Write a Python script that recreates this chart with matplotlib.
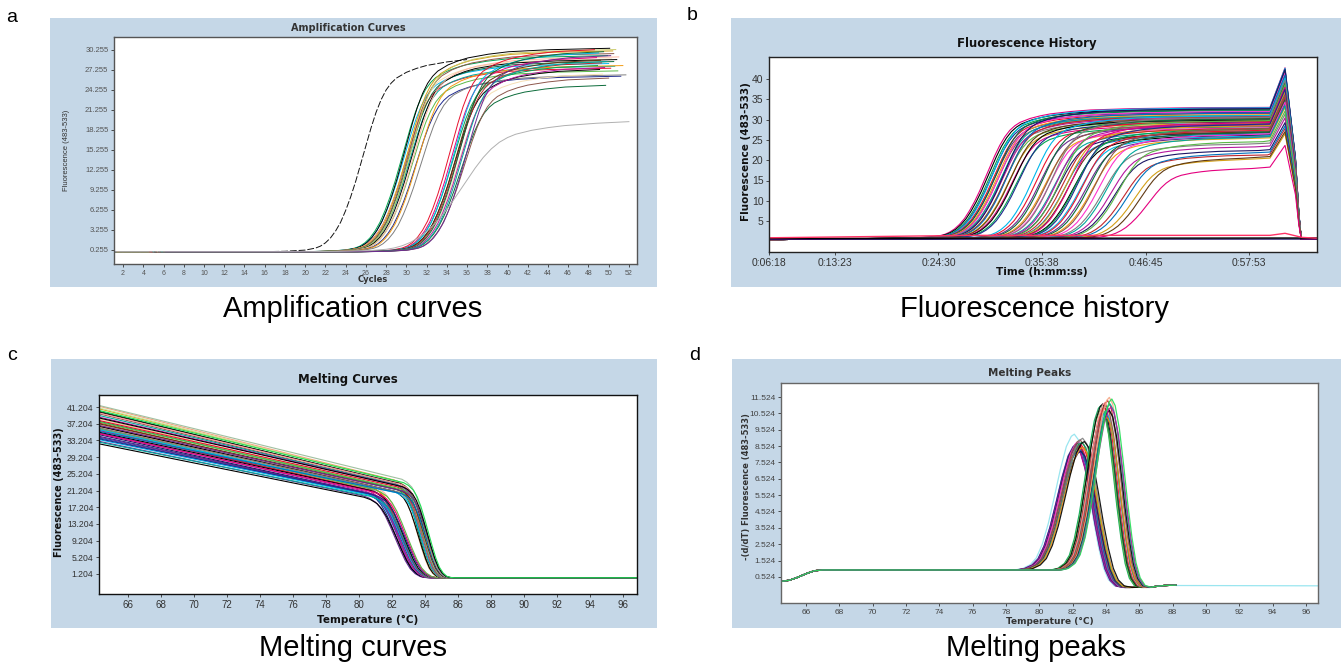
import numpy as np
import matplotlib
matplotlib.use('Agg')
import matplotlib.pyplot as plt
from matplotlib.patches import Rectangle

W, H = 1342, 663
BG = '#c5d7e7'

PALETTE = ['#e4007f', '#000000', '#00a651', '#1f2a8f', '#00b7eb', '#e8112d',
           '#6a2c91', '#0b6b3a', '#f39c12', '#8c564b', '#ff33cc', '#7f7f7f',
           '#00a99d', '#b5179e', '#1b1464', '#5ab947', '#c1272d', '#0072bc',
           '#d4a017', '#603913']

# ---------------- Panel a : amplification curves ----------------
A_TPL_OFF = [-30, -10, -8, -6, -5, -4.5, -4, -3.5, -3, -2.5, -2, -1.5, -1, -0.5, 0,
             0.5, 1, 1.5, 2, 2.5, 3, 4, 5, 6, 8, 10, 14, 20, 30]
A_TPL_FRAC = [0.0, 0.0, 0.002, 0.008, 0.018, 0.028, 0.045, 0.07, 0.105, 0.15, 0.21,
              0.28, 0.36, 0.45, 0.54, 0.63, 0.71, 0.775, 0.825, 0.86, 0.885, 0.915,
              0.935, 0.95, 0.968, 0.98, 0.99, 0.997, 1.0]
A_MID = [26.0,
         29.9, 30.0, 30.1, 30.2, 30.3, 30.4, 30.5, 30.5, 30.6, 30.7, 30.8, 30.9, 31.0, 31.2, 31.4, 31.7,
         34.6, 34.8, 34.9, 35.0, 35.1, 35.2, 35.3, 35.4, 35.5, 35.6, 35.7, 35.8, 36.0, 36.2,
         36.0]
A_PLAT = [29.4,
          29.5, 28.3, 30.6, 27.6, 29.0, 30.2, 28.6, 29.8, 27.9, 30.4, 28.9, 27.2, 29.3, 26.4, 28.0, 26.6,
          30.6, 29.4, 28.2, 30.1, 27.6, 29.0, 28.6, 26.9, 30.3, 27.9, 25.2, 28.8, 26.3, 29.7,
          19.9]
A_SCALE = [1.0] + [1.0] * 16 + [1.0] * 14 + [1.6]
A_END = [37.5] + [53] * 16 + [53] * 14 + [53]
A_COLORS = (['#111111'] +
            ['#00a651', '#00b7eb', '#000000', '#e8112d', '#f5deb3', '#d4a017', '#0b6b3a', '#8c564b',
             '#00a99d', '#c8c864', '#000000', '#5ab947', '#ffb6a0', '#1f2a8f', '#f39c12', '#7f7f7f'] +
            ['#e8112d', '#e4007f', '#00a651', '#00b7eb', '#000000', '#603913', '#c1272d', '#f5deb3',
             '#0b6b3a', '#b5179e', '#0b6b3a', '#00a99d', '#8c564b', '#6a2c91'] +
            ['#b0b0b0'])
A_XTICKS = [2, 4, 6, 8, 10, 12, 14, 16, 18, 20, 22, 24, 26, 28, 30, 32, 34, 36, 38, 40,
            42, 44, 46, 48, 50, 52]
A_YTICKS = [0.255, 3.255, 6.255, 9.255, 12.255, 15.255, 18.255, 21.255, 24.255, 27.255, 30.255]
A_YTICKLABELS = ['0.255', '3.255', '6.255', '9.255', '12.255', '15.255', '18.255',
                 '21.255', '24.255', '27.255', '30.255']

# ---------------- Panel b : fluorescence history ----------------
B_XTICKS = [378, 803, 1470, 2138, 2805, 3473]
B_XTICKLABELS = ['0:06:18', '0:13:23', '0:24:30', '0:35:38', '0:46:45', '0:57:53']
B_YTICKS = [5, 10, 15, 20, 25, 30, 35, 40]
B_SEC_PER_CYCLE = 65
B_BASE = 0.8
B_LEAD_T = [378, 820]
B_LEAD_V = [0.45, 0.6]
B_MID = [1800, 1810, 1822, 1830, 1838, 1845, 1850, 1858, 1865, 1872, 1880, 1886, 1893, 1900,
         1908, 1915, 1922, 1930, 1940, 1950, 1962, 1975, 1990, 2005,
         2100, 2120, 2140, 2160, 2175, 2190, 2205, 2220, 2235, 2250, 2262, 2275, 2290, 2305,
         2318, 2330, 2345, 2360, 2375, 2390, 2405, 2420, 2440, 2460, 2480, 2500,
         2525, 2550, 2575, 2600, 2625, 2650, 2680, 2710, 2750, 2790, 2840]
B_PLAT = [32.2, 31.8, 31.4, 31.0, 32.1, 30.7, 30.1, 31.6, 30.4, 29.8, 31.2, 29.0, 30.2, 29.6,
          31.9, 28.7, 30.0, 30.8, 28.2, 29.4, 27.8, 29.1, 27.4, 28.6,
          30.2, 28.8, 27.6, 29.4, 26.8, 28.2, 27.2, 29.8, 26.4, 28.0, 26.0, 29.0, 27.1, 25.7,
          27.7, 26.2, 28.5, 25.4, 26.9, 28.1, 25.2, 26.6, 25.0, 26.1, 24.7, 27.0,
          25.7, 23.4, 25.0, 22.7, 21.8, 24.0, 20.7, 21.2, 19.7, 20.1, 17.5]
B_HOLD_END = 3606
B_JUMP_T = [3606, 3703, 3770, 3792, 3808]
B_JUMP_F = [1.0, 1.3, 0.62, 0.2, 0.0]
B_END_T = 3909
B_END_V = 0.5
B_NEG_T = [[378, 3909], [378, 3909], [378, 1700, 3606, 3703, 3812, 3909]]
B_NEG_V = [[0.55, 0.6], [0.75, 0.85], [0.9, 1.5, 1.5, 2.0, 1.0, 0.8]]
B_NEG_C = ['#1b1464', '#000000', '#ff3366']

# ---------------- Panel c : melting curves ----------------
C_TPL_OFF = [-2.0, -1.6, -1.2, -0.9, -0.6, -0.3, 0.0, 0.3, 0.6, 0.9, 1.2, 1.5, 1.8, 2.1]
C_TPL_FRAC = [1.0, 0.97, 0.92, 0.85, 0.75, 0.62, 0.48, 0.34, 0.21, 0.11, 0.05, 0.015, 0.003, 0.0]
C_BASE = 0.3
C_TSTART = 64.24
C_TEND = 96.85
C_TM = [82.20, 82.25, 82.30, 82.30, 82.35, 82.40, 82.40, 82.45, 82.50, 82.50, 82.55, 82.60,
        82.60, 82.65, 82.70, 82.70, 82.75, 82.80, 82.85, 82.90,
        83.55, 83.60, 83.60, 83.65, 83.70, 83.70, 83.75, 83.80, 83.80, 83.85, 83.90, 83.90,
        83.95, 84.00, 84.00, 84.05, 84.05, 84.10, 84.10, 84.15, 84.15, 84.20]
C_WIDTH = [1.0] * 20 + [0.75] * 22
C_START = [33.0, 34.2, 35.6, 32.4, 36.8, 33.8, 35.0, 37.4, 34.6, 36.2, 33.4, 35.8, 34.0, 36.6,
           32.8, 35.2, 37.0, 33.6, 34.8, 36.0,
           38.4, 40.2, 36.6, 41.4, 37.8, 39.6, 35.8, 40.8, 38.0, 36.2, 39.2, 41.0, 37.2, 38.8,
           40.0, 35.4, 39.8, 37.6, 41.6, 36.8, 38.6, 40.4]
C_SHOULDER = [20.0, 20.8, 21.6, 19.6, 22.2, 20.4, 21.0, 22.6, 20.6, 21.8, 20.2, 21.4, 20.5,
              22.0, 19.8, 21.2, 22.4, 20.3, 20.9, 21.5,
              21.9, 23.1, 21.1, 23.7, 21.7, 22.7, 20.7, 23.5, 22.1, 20.9, 22.5, 23.3, 21.3,
              22.3, 22.9, 20.5, 22.7, 21.5, 23.9, 21.1, 22.1, 23.1]
C_COLORS = ['#6a2c91', '#1f2a8f', '#e4007f', '#000000', '#ff33cc', '#0072bc', '#b5179e',
            '#e8112d', '#1b1464', '#7f7f7f', '#00b7eb', '#c1272d', '#6a2c91', '#f39c12',
            '#00a99d', '#000000', '#ffb6a0', '#1f2a8f', '#e4007f', '#5ab947',
            '#f5c08a', '#0b6b3a', '#000000', '#f4a582', '#00a651', '#8c564b', '#00b7eb',
            '#d4a017', '#e8112d', '#7f7f7f', '#00a99d', '#c8e6a0', '#603913', '#b5179e',
            '#000000', '#0072bc', '#ff9999', '#5ab947', '#a0c0a0', '#6a2c91', '#000000',
            '#22dd55']
C_XTICKS = [66, 68, 70, 72, 74, 76, 78, 80, 82, 84, 86, 88, 90, 92, 94, 96]
C_YTICKS = [1.204, 5.204, 9.204, 13.204, 17.204, 21.204, 25.204, 29.204, 33.204, 37.204, 41.204]
C_YTICKLABELS = ['1.204', '5.204', '9.204', '13.204', '17.204', '21.204', '25.204', '29.204',
                 '33.204', '37.204', '41.204']

# ---------------- Panel d : melting peaks ----------------
D_PRE_T = [64.5, 65.0, 65.5, 66.0, 66.5, 67.0, 78.0]
D_PRE_V = [0.25, 0.32, 0.5, 0.72, 0.9, 0.95, 0.95]
D_TPL_OFF = [-3.0, -2.6, -2.2, -1.9, -1.6, -1.3, -1.0, -0.7, -0.4, -0.15, 0.0, 0.2, 0.45,
             0.7, 0.95, 1.2, 1.45, 1.7, 2.0, 2.4]
D_TPL_FRAC = [0.0, 0.01, 0.04, 0.09, 0.19, 0.34, 0.53, 0.73, 0.9, 0.98, 1.0, 0.97, 0.85,
              0.66, 0.45, 0.27, 0.13, 0.05, 0.01, 0.0]
D_TPL_BASE = [0.95, 0.94, 0.92, 0.89, 0.85, 0.79, 0.72, 0.63, 0.53, 0.45, 0.40, 0.33, 0.25,
              0.17, 0.09, 0.02, -0.04, -0.08, -0.11, -0.12]
D_POST_T = [86.8, 87.5, 88.2]
D_POST_V = [-0.08, 0.0, 0.02]
D_TAIL_T = [88.2, 96.72]
D_TAIL_V = [0.0, -0.02]
D_CENTER = [82.1, 82.2, 82.2, 82.25, 82.3, 82.3, 82.35, 82.4, 82.4, 82.45, 82.5, 82.5, 82.55,
            82.6, 82.6, 82.7,
            83.7, 83.75, 83.8, 83.85, 83.9, 83.95, 84.0, 84.0, 84.05, 84.1, 84.15, 84.2, 84.2,
            84.25, 84.3, 84.35]
D_PEAK = [9.25, 8.5, 8.6, 8.4, 8.7, 8.55, 8.8, 8.5, 8.3, 8.9, 8.6, 8.2, 8.75, 9.0, 8.45, 8.8,
          11.0, 10.8, 11.1, 10.5, 10.9, 11.2, 10.6, 11.0, 10.3, 11.3, 10.8, 11.5, 10.7, 11.1,
          10.9, 11.4]
D_WIDTH = [1.2] * 16 + [1.0] * 16
D_COLORS = ['#8fe3ee', '#e4007f', '#1f2a8f', '#b5179e', '#000000', '#6a2c91', '#ff33cc',
            '#c1272d', '#0072bc', '#8c564b', '#e8112d', '#1b1464', '#00a651', '#7f7f7f',
            '#f39c12', '#000000',
            '#00a651', '#5ab947', '#000000', '#0b6b3a', '#e8112d', '#ff9999', '#00b7eb',
            '#8c564b', '#d4a017', '#c1272d', '#7f7f7f', '#f4a582', '#000000', '#00a99d',
            '#b5179e', '#22dd55']
D_XTICKS = [66, 68, 70, 72, 74, 76, 78, 80, 82, 84, 86, 88, 90, 92, 94, 96]
D_YTICKS = [0.524, 1.524, 2.524, 3.524, 4.524, 5.524, 6.524, 7.524, 8.524, 9.524, 10.524, 11.524]
D_YTICKLABELS = ['0.524', '1.524', '2.524', '3.524', '4.524', '5.524', '6.524', '7.524',
                 '8.524', '9.524', '10.524', '11.524']

# ================= drawing =================
fig = plt.figure(figsize=(W / 100, H / 100), dpi=100)
fig.patch.set_facecolor('white')


def bg_box(l, t, r, b):
    fig.patches.append(Rectangle((l / W, 1 - b / H), (r - l) / W, (b - t) / H,
                                 transform=fig.transFigure, facecolor=BG,
                                 edgecolor='none', zorder=-10))


def make_ax(l, t, r, b, spine='#222222'):
    ax = fig.add_axes([l / W, 1 - b / H, (r - l) / W, (b - t) / H])
    ax.set_facecolor('white')
    for s in ax.spines.values():
        s.set_color(spine)
        s.set_linewidth(1.0)
    ax.tick_params(direction='out', length=2.5, width=0.6, pad=1.5, colors='#333333')
    return ax


def ftext(x, y, s, **kw):
    fig.text(x / W, 1 - y / H, s, ha=kw.pop('ha', 'center'), va=kw.pop('va', 'center'), **kw)


TICKFONT = ['Liberation Sans', 'DejaVu Sans']

# ---- panel a ----
bg_box(50, 18, 657, 287)
axa = make_ax(114, 37, 637, 264, spine='#555555')
off_a = np.array(A_TPL_OFF)
frac_a = np.array(A_TPL_FRAC)
for i in range(len(A_MID)):
    x = A_MID[i] + A_SCALE[i] * off_a
    y = A_PLAT[i] * frac_a
    keep = x <= A_END[i]
    if i == 0:
        axa.plot(x[keep], y[keep], color=A_COLORS[i], lw=0.7, dashes=(7, 2))
    else:
        axa.plot(x[keep], y[keep], color=A_COLORS[i], lw=0.7)
axa.set_xlim(1.1, 52.8)
axa.set_ylim(-1.85, 32.2)
axa.set_xticks(A_XTICKS)
axa.set_xticklabels([str(v) for v in A_XTICKS], fontsize=5, color='#555555', family=TICKFONT)
axa.set_yticks(A_YTICKS)
axa.set_yticklabels(A_YTICKLABELS, fontsize=5.5, color='#555555', family=TICKFONT)
ftext(348, 28, 'Amplification Curves', fontsize=7, fontweight='bold', color='#333333')
ftext(373, 279, 'Cycles', fontsize=6, fontweight='bold', color='#333333')
ftext(66, 150, 'Fluorescence (483-533)', fontsize=5.5, rotation=90, color='#333333',
      family=TICKFONT)

# ---- panel b ----
bg_box(731, 18, 1341, 287)
axb = make_ax(769, 57, 1317, 252, spine='#222222')
off_b = np.array(A_TPL_OFF) * B_SEC_PER_CYCLE
for i in range(len(B_MID)):
    t = B_MID[i] + off_b
    v = B_BASE + B_PLAT[i] * frac_a
    keep = (t > 900) & (t < B_HOLD_END)
    top = B_BASE + B_PLAT[i]
    tt = list(B_LEAD_T) + list(t[keep]) + list(B_JUMP_T) + [B_END_T]
    vv = (list(B_LEAD_V) + list(v[keep]) +
          [B_END_V + (top - B_END_V) * f for f in B_JUMP_F] + [B_END_V])
    axb.plot(tt, vv, color=PALETTE[i % len(PALETTE)], lw=0.8)
for tt, vv, c in zip(B_NEG_T, B_NEG_V, B_NEG_C):
    axb.plot(tt, vv, color=c, lw=1.0)
axb.set_xlim(378, 3909)
axb.set_ylim(-2.6, 45.4)
axb.set_xticks(B_XTICKS)
axb.set_xticklabels(B_XTICKLABELS, fontsize=7.5, family=TICKFONT)
axb.set_yticks(B_YTICKS)
axb.set_yticklabels([str(v) for v in B_YTICKS], fontsize=7.5, family=TICKFONT)
ftext(1027, 43, 'Fluorescence History', fontsize=8.5, fontweight='bold', color='#111111')
ftext(1042, 272, 'Time (h:mm:ss)', fontsize=7.5, fontweight='bold', color='#111111')
ftext(746, 152, 'Fluorescence (483-533)', fontsize=7.5, fontweight='bold', rotation=90,
      color='#111111')

# ---- panel c ----
bg_box(51, 359, 657, 628)
axc = make_ax(99, 395, 637, 594, spine='#111111')
off_c = np.array(C_TPL_OFF)
frac_c = np.array(C_TPL_FRAC)
for i in range(len(C_TM)):
    xs = C_TM[i] + C_WIDTH[i] * off_c
    ys = C_BASE + (C_SHOULDER[i] - C_BASE) * frac_c
    x = [C_TSTART] + list(xs) + [C_TEND]
    y = [C_START[i]] + list(ys) + [C_BASE]
    axc.plot(x, y, color=C_COLORS[i], lw=0.8)
axc.set_xlim(C_TSTART, C_TEND)
axc.set_ylim(-3.6, 44.1)
axc.set_xticks(C_XTICKS)
axc.set_xticklabels([str(v) for v in C_XTICKS], fontsize=7, family=TICKFONT)
axc.set_yticks(C_YTICKS)
axc.set_yticklabels(C_YTICKLABELS, fontsize=6.2, family=TICKFONT)
ftext(348, 379, 'Melting Curves', fontsize=8.5, fontweight='bold', color='#111111')
ftext(368, 620, 'Temperature (°C)', fontsize=7.5, fontweight='bold', color='#111111')
ftext(59, 492, 'Fluorescence (483-533)', fontsize=7, fontweight='bold', rotation=90,
      color='#111111')

# ---- panel d ----
bg_box(732, 359, 1341, 628)
axd = make_ax(781, 383, 1318, 603, spine='#666666')
off_d = np.array(D_TPL_OFF)
frac_d = np.array(D_TPL_FRAC)
base_d = np.array(D_TPL_BASE)
for i in range(len(D_CENTER)):
    xs = D_CENTER[i] + D_WIDTH[i] * off_d
    ys = base_d + (D_PEAK[i] - 0.40) * frac_d
    x = list(D_PRE_T) + list(xs) + list(D_POST_T)
    y = list(D_PRE_V) + list(ys) + list(D_POST_V)
    if i == 0:
        x += list(D_TAIL_T)
        y += list(D_TAIL_V)
    axd.plot(x, y, color=D_COLORS[i], lw=0.9, alpha=0.9)
axd.set_xlim(64.5, 96.72)
axd.set_ylim(-1.07, 12.38)
axd.set_xticks(D_XTICKS)
axd.set_xticklabels([str(v) for v in D_XTICKS], fontsize=6, color='#444444', family=TICKFONT)
axd.set_yticks(D_YTICKS)
axd.set_yticklabels(D_YTICKLABELS, fontsize=6, color='#444444', family=TICKFONT)
ftext(1030, 373, 'Melting Peaks', fontsize=7.5, fontweight='bold', color='#333333')
ftext(1050, 621, 'Temperature (°C)', fontsize=6.5, fontweight='bold', color='#333333')
ftext(746, 487, '-(d/dT) Fluorescence (483-533)', fontsize=6, fontweight='bold', rotation=90,
      color='#333333')

# ---- panel letters and captions ----
CAPFONT = ['Liberation Sans', 'DejaVu Sans']
for s, x, y in [('a', 12, 17), ('b', 692, 15), ('c', 12, 355), ('d', 695, 355)]:
    ftext(x, y, s, fontsize=14, family=CAPFONT)
for s, x, y in [('Amplification curves', 353, 309), ('Fluorescence history', 1035, 309),
                ('Melting curves', 353, 648), ('Melting peaks', 1036, 648)]:
    ftext(x, y, s, fontsize=21, family=CAPFONT)

fig.savefig('out.png', dpi=100, facecolor='white')
